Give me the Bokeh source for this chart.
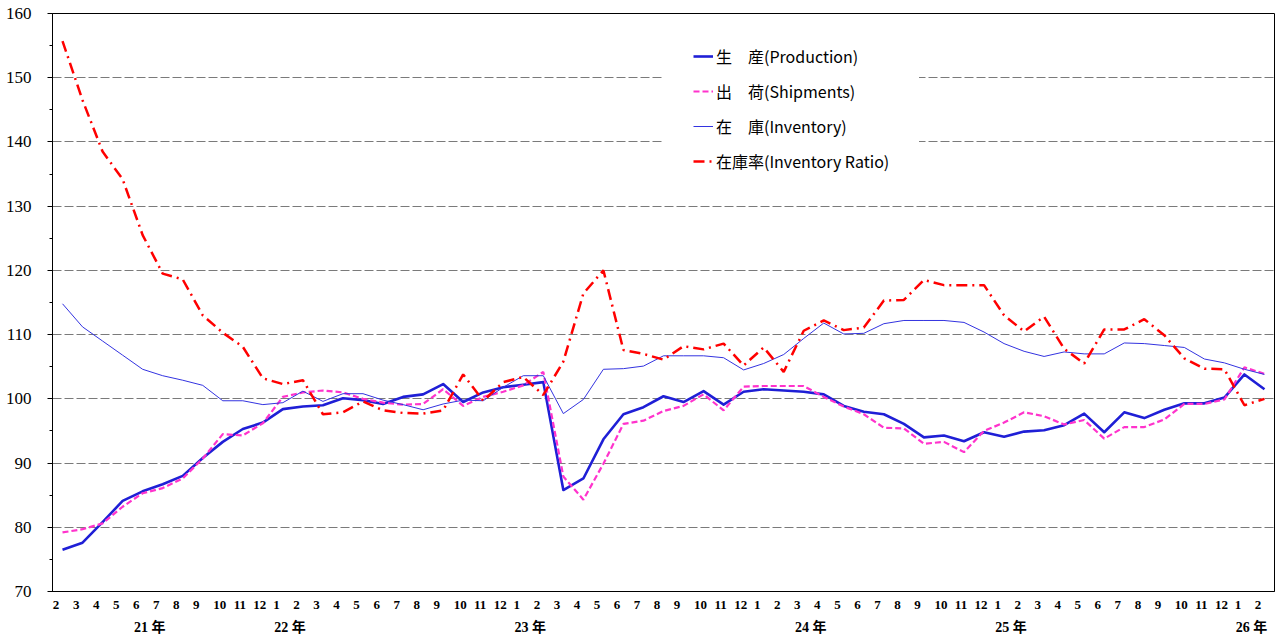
from bokeh.plotting import figure
from bokeh.models import Range1d, LinearAxis, FixedTicker, SingleIntervalTicker, Legend, LegendItem
from bokeh.embed import file_html
from bokeh.resources import INLINE

# ---- data ----
month_labels = [2, 3, 4, 5, 6, 7, 8, 9, 10, 11, 12,
                1, 2, 3, 4, 5, 6, 7, 8, 9, 10, 11, 12,
                1, 2, 3, 4, 5, 6, 7, 8, 9, 10, 11, 12,
                1, 2, 3, 4, 5, 6, 7, 8, 9, 10, 11, 12,
                1, 2, 3, 4, 5, 6, 7, 8, 9, 10, 11, 12,
                1, 2]
year_labels = ["21 年", "22 年", "23 年", "24 年", "25 年", "26 年"]
year_label_bins = [4, 11, 23, 37, 47, 59]

production = [76.5, 77.6, 80.8, 84.1, 85.6, 86.7, 88.0, 90.8, 93.3, 95.3, 96.3, 98.4,
              98.8, 99.0, 100.1, 99.8, 99.2, 100.3, 100.7, 102.3, 99.5, 101.0, 101.8, 102.2,
              102.6, 85.8, 87.6, 93.7, 97.6, 98.7, 100.4, 99.5, 101.2, 99.1, 101.1, 101.5,
              101.3, 101.1, 100.7, 98.9, 98.0, 97.6, 96.1, 94.0, 94.3, 93.4, 94.8, 94.1,
              94.9, 95.1, 95.9, 97.7, 94.8, 97.9, 97.0, 98.3, 99.3, 99.3, 100.2, 103.8, 101.5]
shipments = [79.2, 79.7, 80.6, 83.2, 85.3, 86.1, 87.6, 90.7, 94.5, 94.3, 96.2, 100.3,
             101.0, 101.3, 101.0, 100.0, 99.4, 99.1, 99.2, 101.5, 98.9, 100.3, 101.1, 102.1,
             104.2, 87.9, 84.3, 89.9, 96.1, 96.6, 98.1, 98.9, 100.7, 98.2, 101.9, 102.0,
             102.0, 102.0, 100.3, 98.8, 97.6, 95.5, 95.4, 93.0, 93.3, 91.7, 95.0, 96.3,
             97.9, 97.3, 96.0, 96.7, 93.8, 95.6, 95.6, 96.8, 99.2, 99.2, 99.9, 104.9, 103.9]
inventory = [114.8, 111.2, 109.0, 106.8, 104.6, 103.6, 102.9, 102.1, 99.7, 99.7, 99.1, 99.4,
             101.2, 99.6, 100.8, 100.8, 99.8, 99.1, 98.3, 99.2, 99.8, 99.7, 101.8, 103.6,
             103.6, 97.7, 99.9, 104.6, 104.7, 105.1, 106.7, 106.7, 106.7, 106.4, 104.5, 105.5,
             106.9, 109.4, 111.8, 110.1, 110.2, 111.7, 112.2, 112.2, 112.2, 111.9, 110.4, 108.6,
             107.4, 106.6, 107.3, 107.0, 107.0, 108.7, 108.6, 108.3, 108.0, 106.2, 105.6, 104.6, 103.8]
inventory_ratio = [155.7, 146.5, 138.5, 134.2, 125.5, 119.5, 118.6, 113.0, 110.3, 108.1, 103.2, 102.3,
                   102.9, 97.6, 97.9, 99.6, 98.2, 97.8, 97.7, 98.2, 103.8, 99.7, 102.6, 103.4,
                   100.6, 105.8, 116.4, 120.0, 107.6, 107.0, 106.1, 108.2, 107.7, 108.6, 105.2, 108.0,
                   104.2, 110.6, 112.2, 110.7, 111.1, 115.3, 115.4, 118.5, 117.7, 117.7, 117.7, 113.0,
                   110.5, 112.8, 107.8, 105.5, 110.8, 110.8, 112.4, 109.9, 106.3, 104.7, 104.6, 99.0, 100.0]

names = ["生　産(Production)", "出　荷(Shipments)", "在　庫(Inventory)", "在庫率(Inventory Ratio)"]

x = list(range(len(month_labels)))

p = figure(width=1275, height=640,
           x_range=Range1d(-0.5, len(month_labels) - 0.5), y_range=Range1d(70, 160),
           x_axis_type=None, output_backend="svg", toolbar_location=None,
           min_border_left=52, min_border_right=1, min_border_top=13, min_border_bottom=49)
p.background_fill_color = "white"
p.border_fill_color = "white"
p.outline_line_color = "black"
p.outline_line_width = 1

# label range: bins scaled by 100 so that ticks are integers
p.extra_x_ranges = {"lab": Range1d(-50, 100 * len(month_labels) - 50)}

month_ticks = []
month_over = {}
for i, m in enumerate(month_labels):
    off = 0.18 if m < 10 else 0.35
    t = int(round(100 * (i - 0.5 + off)))
    month_ticks.append(t)
    month_over[t] = str(m)

year_ticks = []
year_over = {}
for b, lab in zip(year_label_bins, year_labels):
    t = int(round(100 * (b + 0.35)))
    year_ticks.append(t)
    year_over[t] = lab

serif = "Liberation Serif, Noto Sans CJK JP"

ax_m = LinearAxis(x_range_name="lab", ticker=FixedTicker(ticks=month_ticks),
                  major_label_overrides=month_over)
ax_m.major_tick_out = 0
ax_m.major_tick_in = 0
ax_m.minor_tick_out = 0
ax_m.minor_tick_in = 0
ax_m.axis_line_color = "black"
ax_m.major_label_standoff = 9
ax_m.major_label_text_font = serif
ax_m.major_label_text_font_style = "bold"
ax_m.major_label_text_font_size = "13px"
ax_m.major_label_text_color = "black"
p.add_layout(ax_m, "below")

ax_y = LinearAxis(x_range_name="lab", ticker=FixedTicker(ticks=year_ticks),
                  major_label_overrides=year_over)
ax_y.major_tick_out = 0
ax_y.major_tick_in = 0
ax_y.minor_tick_out = 0
ax_y.minor_tick_in = 0
ax_y.axis_line_color = None
ax_y.major_label_standoff = 8
ax_y.major_label_text_font = serif
ax_y.major_label_text_font_style = "bold"
ax_y.major_label_text_font_size = "14px"
ax_y.major_label_text_color = "black"
p.add_layout(ax_y, "below")

yt = SingleIntervalTicker(interval=10, num_minor_ticks=2)
p.yaxis.ticker = yt
p.yaxis.axis_line_color = "black"
p.yaxis.major_tick_out = 5
p.yaxis.major_tick_in = 0
p.yaxis.minor_tick_out = 3
p.yaxis.minor_tick_in = 0
p.yaxis.major_tick_line_color = "black"
p.yaxis.minor_tick_line_color = "black"
p.yaxis.major_label_standoff = 16
p.yaxis.major_label_text_font = "Liberation Serif"
p.yaxis.major_label_text_font_size = "17px"
p.yaxis.major_label_text_color = "black"

p.ygrid.ticker = yt
p.ygrid.grid_line_color = "#7a7a7a"
p.ygrid.grid_line_dash = "9 3"
p.ygrid.grid_line_width = 1
for g in p.xgrid:
    g.visible = False

r_prod = p.line(x, production, line_color="#1f1fd6", line_width=2.6, line_join="round")
r_ship = p.line(x, shipments, line_color="#ff33cc", line_width=2.2, line_dash="6 3")
r_inv = p.line(x, inventory, line_color="#3333e0", line_width=1)
r_rat = p.line(x, inventory_ratio, line_color="#ff0000", line_width=2.5, line_dash="11 5 2 5")

legend = Legend(items=[LegendItem(label=names[0], renderers=[r_prod]),
                       LegendItem(label=names[1], renderers=[r_ship]),
                       LegendItem(label=names[2], renderers=[r_inv]),
                       LegendItem(label=names[3], renderers=[r_rat])],
                location=(611, 388))
legend.border_line_color = "white"
legend.border_line_width = 1
legend.background_fill_color = "white"
legend.background_fill_alpha = 1
legend.padding = 29
legend.spacing = 11
legend.label_height = 20
legend.glyph_height = 20
legend.glyph_width = 20
legend.label_standoff = 3
legend.margin = 0
legend.label_text_font = "Noto Sans CJK JP"
legend.label_text_font_size = "16px"
legend.label_text_color = "black"
p.add_layout(legend)

open("out.html", "w").write(file_html(p, INLINE))
